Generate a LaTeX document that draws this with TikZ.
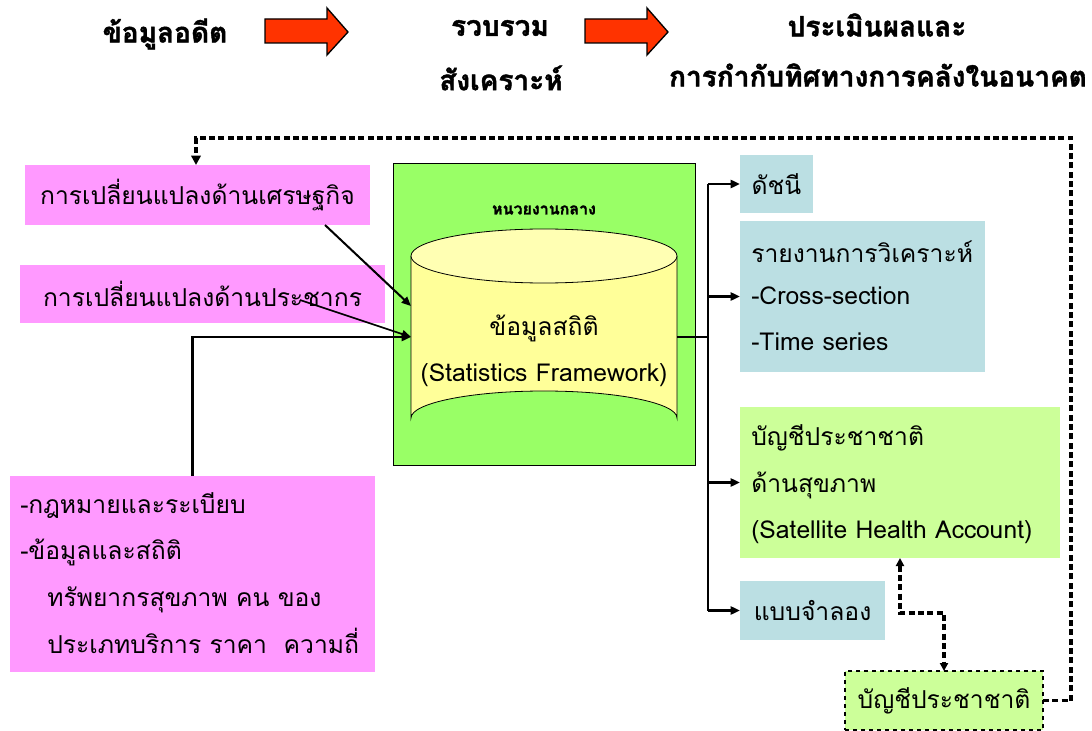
\documentclass[tikz,border=0pt]{standalone}
\usepackage{fontspec}
\setmainfont[Script=Thai]{Loma}
\newfontfamily\headfont[Script=Thai, BoldFeatures={FakeBold=1.5}]{Loma}
\usetikzlibrary{arrows.meta,calc}
\newdimen\pxu \pxu=0.75pt
\definecolor{pinkbox}{HTML}{FF99FF}
\definecolor{bluebox}{HTML}{BBDFE3}
\definecolor{limebox}{HTML}{CCFF99}
\definecolor{outergreen}{HTML}{99FF66}
\definecolor{cylfill}{HTML}{FFFF99}
\definecolor{cyltop}{HTML}{FFFFB3}
\definecolor{redarrow}{HTML}{FF3300}
\tikzset{
  box/.style={rectangle, inner sep=0pt, outer sep=0pt, draw=none},
  pinkb/.style={box, fill=pinkbox},
  blueb/.style={box, fill=bluebox},
  limeb/.style={box, fill=limebox},
  headtxt/.style={font=\headfont\bfseries\fontsize{21}{25}\selectfont, inner sep=0pt},
  boxtxt/.style={font=\fontsize{18.5}{22}\selectfont, inner sep=0pt},
  conn/.style={line width=1.8pt, black},
  tip/.style={-{Triangle[length=7pt,width=6pt]}},
  dashconn/.style={line width=2.4pt, black, dash pattern=on 4.5pt off 2.5pt},
  bigarrow/.style={fill=redarrow, draw=black, line width=1pt, line join=miter},
}
\begin{document}
\begin{tikzpicture}[x=0.75pt,y=-0.75pt]
\useasboundingbox (0,0) rectangle (1092,731);
\fill[white] (0,0) rectangle (1092,731);

% headers
\node[headtxt] (h1) at (165,34) {ข้อมูลอดีต};
\node[headtxt] (h2a) at (500,28) {รวบรวม};
\node[headtxt] (h2b) at (501,78) {สังเคราะห์};
\node[headtxt] (h3a) at (877,25) {ประเมินผลและ};
\node[headtxt] (h3b) at (878,75) {การกำกับทิศทางการคลังในอนาคต};
\draw[bigarrow] (265,19) -- (327,19) -- (327,8) -- (348,32) -- (327,55) -- (327,43) -- (265,43) -- cycle;
\draw[bigarrow] (585,19) -- (647,19) -- (647,8) -- (668,32) -- (647,55) -- (647,43) -- (585,43) -- cycle;

% left boxes
\node[pinkb, minimum width=345\pxu, minimum height=60\pxu, boxtxt] (econ) at (197.5,195) {การเปลี่ยนแปลงด้านเศรษฐกิจ};
\node[pinkb, minimum width=365\pxu, minimum height=58\pxu, boxtxt] (pop) at (202.5,294) {การเปลี่ยนแปลงด้านประชากร};
\node[pinkb, minimum width=365\pxu, minimum height=196\pxu] (law) at (192.5,574) {};
\node[boxtxt, anchor=base west] (law1) at (20,513) {-กฎหมายและระเบียบ};
\node[boxtxt, anchor=base west] (law2) at (20,559) {-ข้อมูลและสถิติ};
\node[boxtxt, anchor=base west] (law3) at (47,606) {ทรัพยากรสุขภาพ คน ของ};
\node[boxtxt, anchor=base west] (law4) at (47,653) {ประเภทบริการ ราคา~~ความถี่};

% central unit
\node[box, draw=black, line width=0.6pt, fill=outergreen, minimum width=302\pxu, minimum height=302\pxu] (unit) at (544,314) {};
\node[font=\headfont\bfseries\fontsize{12}{14}\selectfont, inner sep=0pt] (unitt) at (544,210) {หนวยงานกลาง};
\fill[cylfill] (411,256) -- (411,418) arc[start angle=180, end angle=360, x radius=133, y radius=27] -- (677,256) -- cycle;
\draw[line width=0.6pt] (411,256) -- (411,418) arc[start angle=180, end angle=360, x radius=133, y radius=27] -- (677,256);
\draw[line width=0.6pt, fill=cyltop] (544,256) ellipse[x radius=133, y radius=27];
\node[box, minimum width=266\pxu, minimum height=216\pxu] (cyl) at (544,337) {};
\node[boxtxt] (cylt1) at (544,328) {ข้อมูลสถิติ};
\node[boxtxt] (cylt2) at (544,375) {(Statistics Framework)};
\coordinate (cylA) at (411,306);
\coordinate (cylB) at (411,337);
\coordinate (cylR) at (677,337);

% right boxes
\node[blueb, minimum width=73\pxu, minimum height=58\pxu, boxtxt] (idx) at (776.5,184) {ดัชนี};
\node[blueb, minimum width=245\pxu, minimum height=151\pxu] (rep) at (862.5,296.5) {};
\node[boxtxt, anchor=base west] (rep1) at (751,262) {รายงานการวิเคราะห์};
\node[boxtxt, anchor=base west] (rep2) at (751,304) {-Cross-section};
\node[boxtxt, anchor=base west] (rep3) at (751,350) {-Time series};
\node[limeb, minimum width=320\pxu, minimum height=151\pxu] (sha) at (900,482.5) {};
\node[boxtxt, anchor=base west] (sha1) at (751,445) {บัญชีประชาชาติ};
\node[boxtxt, anchor=base west] (sha2) at (751,492) {ด้านสุขภาพ};
\node[boxtxt, anchor=base west] (sha3) at (751,538) {(Satellite Health Account)};
\node[blueb, minimum width=145\pxu, minimum height=59\pxu, boxtxt] (mod) at (812.5,610.5) {แบบจำลอง};
\node[limeb, draw=black, line width=0.8pt, dashed, minimum width=198\pxu, minimum height=59\pxu, boxtxt] (acc) at (944,700.5) {บัญชีประชาชาติ};

% connectors into the cylinder
\draw[line width=1.5pt, tip] ($(econ.south east)+(-45,0)$) -- (cylA);
\draw[line width=1.2pt, tip] ($(pop.east)+(-85,6)$) -- (cylB);
\draw[conn, tip] (law.north) |- (cylB);

% bus
\coordinate (bus) at (708,337);
\draw[conn] (cylR) -- (bus);
\draw[conn] (bus |- idx.west) -- (bus |- mod.west);
\draw[conn, tip] (bus |- idx.west) -- (idx.west);
\draw[conn, tip] (bus |- rep.west) -- (rep.west);
\draw[conn, tip] (bus |- sha.west) -- (sha.west);
\draw[conn, tip] (bus |- mod.west) -- (mod.west);

% dashed feedback
\coordinate (loopR) at (1071,138);
\coordinate (loopL) at (196,138);
\draw[dashconn, -{Triangle[length=7pt,width=7pt]}] (acc.east) -| (loopR) -- (loopL) -- (loopL |- econ.north);
\coordinate (mid) at (920,613);
\draw[dashconn, {Triangle[length=6pt,width=6pt]}-{Triangle[length=6pt,width=6pt]}] (sha.south) |- (mid) -| (acc.north);
\end{tikzpicture}
\end{document}
